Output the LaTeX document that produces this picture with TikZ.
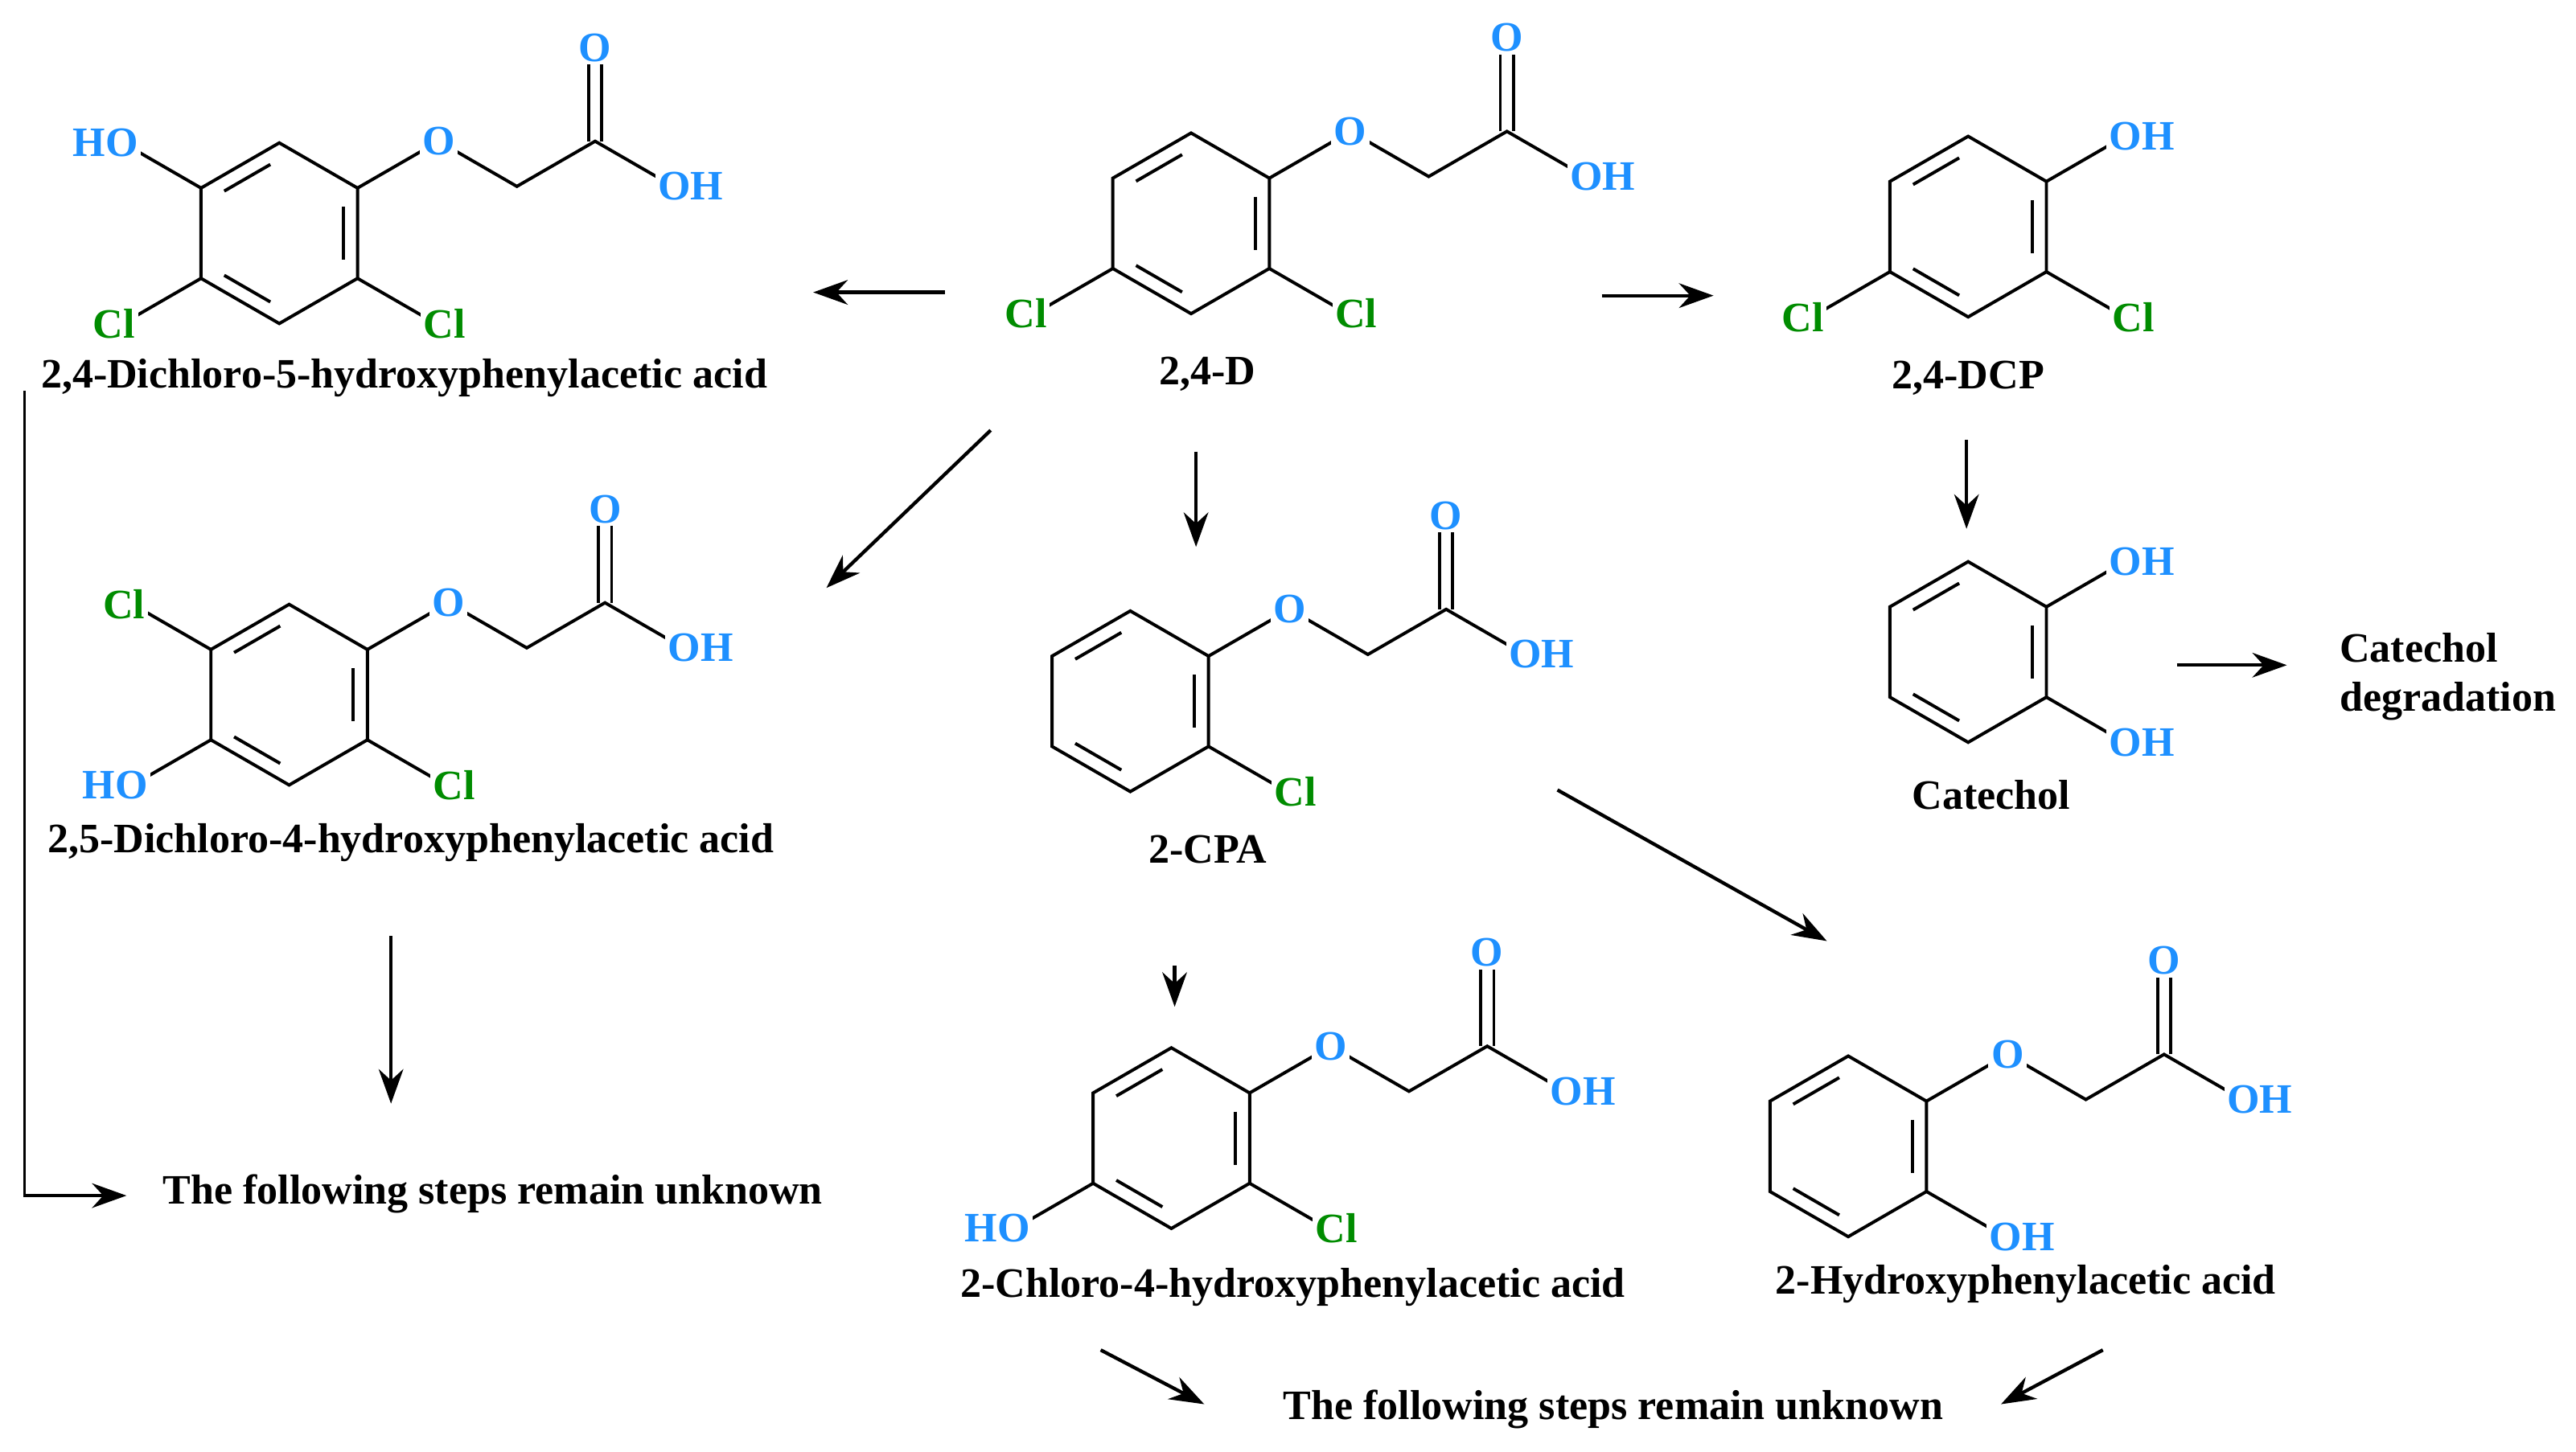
\documentclass[tikz,border=0pt]{standalone}
\usepackage{fontspec}
\setmainfont{Liberation Serif}
\usetikzlibrary{calc,arrows.meta}
\definecolor{oc}{RGB}{30,144,255}
\definecolor{clc}{RGB}{0,140,0}
\tikzset{
 bond/.style={line width=1.1pt,black},
 atm/.style={fill=white,inner sep=1pt,font=\fontsize{14.5}{17}\selectfont\bfseries},
 ox/.style={atm,text=oc},
 cl/.style={atm,text=clc},
 lab/.style={inner sep=1pt,font=\fontsize{14.5}{17}\selectfont\bfseries},
 arr/.style={line width=1.2pt,-{Stealth[length=0.42cm,width=0.3cm]}},
}
\newcommand\ring[2]{%
 \draw[bond] (#1,#2)++(30:55)--++(150:55)--++(210:55)--++(270:55)--++(330:55)--++(30:55)--cycle;
 \foreach \a/\b in {-150/-90,-30/30,90/150}{
  \path (#1,#2)++(\a:45) coordinate (p) (#1,#2)++(\b:45) coordinate (q);
  \draw[bond] ($(p)!0.14!(q)$)--($(p)!0.86!(q)$);}
}
\newcommand\acid[2]{%
 \path (#1,#2) ++(-30:55) coordinate (v) ++(-30:57) coordinate (o) ++(30:55) coordinate (c1) ++(-30:55) coordinate (c2) ++(30:55) coordinate (oh);
 \path (c2) ++(0,-57) coordinate (od);
 \draw[bond] (v)--(o)--(c1)--(c2)--(oh);
 \draw[bond] ([xshift=-2.3pt]c2)--([xshift=-2.3pt]od);
 \draw[bond] ([xshift=2.3pt]c2)--([xshift=2.3pt]od);
 \node[ox] at (o){O}; \node[ox] at (od){O}; \node[ox,xshift=6pt] at (oh){OH};
}
\newcommand\sub[6]{% x y angle text style xshift
 \path (#1,#2)++(#3:55) coordinate (s1) ++(#3:55) coordinate (s2);
 \draw[bond] (s1)--(s2);
 \node[#5,xshift=#6] at (s2){#4};
}
\begin{document}
\begin{tikzpicture}[x=0.02cm,y=-0.02cm]
\useasboundingbox (0,0) rectangle (1568,884);
% 2,4-D
\ring{725}{136}\acid{725}{136}
\sub{725}{136}{150}{Cl}{cl}{-3pt}\sub{725}{136}{30}{Cl}{cl}{3pt}
\node[lab] (d24) at (735,228){2,4-D};
% 2,4-dichloro-5-hydroxy
\ring{170}{142}\acid{170}{142}
\sub{170}{142}{-150}{HO}{ox}{-6pt}
\sub{170}{142}{150}{Cl}{cl}{-3pt}\sub{170}{142}{30}{Cl}{cl}{3pt}
\node[lab] (m1) at (246,230){2,4-Dichloro-5-hydroxyphenylacetic acid};
% 2,5-dichloro-4-hydroxy
\ring{176}{423}\acid{176}{423}
\sub{176}{423}{-150}{Cl}{cl}{-3pt}
\sub{176}{423}{150}{HO}{ox}{-6pt}\sub{176}{423}{30}{Cl}{cl}{3pt}
\node[lab] (m2) at (250,513){2,5-Dichloro-4-hydroxyphenylacetic acid};
% 2,4-DCP
\ring{1198}{138}
\sub{1198}{138}{-30}{OH}{ox}{6pt}
\sub{1198}{138}{150}{Cl}{cl}{-3pt}\sub{1198}{138}{30}{Cl}{cl}{3pt}
\node[lab] (dcp) at (1198,230){2,4-DCP};
% catechol
\ring{1198}{397}
\sub{1198}{397}{-30}{OH}{ox}{6pt}\sub{1198}{397}{30}{OH}{ox}{6pt}
\node[lab] (cat) at (1212,484){Catechol};
\node[lab,align=left,anchor=west] (catd) at (1422,412){Catechol\\degradation};
% 2-CPA
\ring{688}{427}\acid{688}{427}
\sub{688}{427}{30}{Cl}{cl}{3pt}
\node[lab] (cpa) at (735,517){2-CPA};
% 2-chloro-4-hydroxy
\ring{713}{693}\acid{713}{693}
\sub{713}{693}{30}{Cl}{cl}{3pt}\sub{713}{693}{150}{HO}{ox}{-6pt}
\node[lab] (m3) at (787,784){2-Chloro-4-hydroxyphenylacetic acid};
% 2-hydroxy
\ring{1125}{698}\acid{1125}{698}
\sub{1125}{698}{30}{OH}{ox}{6pt}
\node[lab] (m4) at (1233,782){2-Hydroxyphenylacetic acid};
% unknown
\node[lab] (u1) at (300,727){The following steps remain unknown};
\node[lab] (u2) at (982,858){The following steps remain unknown};
% arrows
\coordinate (a1) at (575,178); \coordinate (a2) at (495,178);
\draw[arr] (a1)--(a2);
\coordinate (b1) at (975,180); \coordinate (b2) at (1043,180);
\draw[arr] (b1)--(b2);
\coordinate (c1) at (603,262); \coordinate (c2) at (503,358);
\draw[arr] (c1)--(c2);
\coordinate (e1) at (728,275); \coordinate (e2) at (728,333);
\draw[arr] (e1)--(e2);
\coordinate (f1) at (1197,268); \coordinate (f2) at (1197,322);
\draw[arr] (f1)--(f2);
\coordinate (g1) at (1325,405); \coordinate (g2) at (1392,405);
\draw[arr] (g1)--(g2);
\coordinate (h1) at (948,481); \coordinate (h2) at (1112,573);
\draw[arr] (h1)--(h2);
\coordinate (i1) at (715,588); \coordinate (i2) at (715,613);
\draw[arr] (i1)--(i2);
\coordinate (j1) at (238,570); \coordinate (j2) at (238,672);
\draw[arr] (j1)--(j2);
\coordinate (k1) at (15,238); \coordinate (k2) at (77,728);
\draw[arr,line width=1pt] (k1)|-(k2);
\coordinate (l1) at (670,822); \coordinate (l2) at (733,855);
\draw[arr] (l1)--(l2);
\coordinate (n1) at (1280,822); \coordinate (n2) at (1218,855);
\draw[arr] (n1)--(n2);
\end{tikzpicture}
\end{document}
